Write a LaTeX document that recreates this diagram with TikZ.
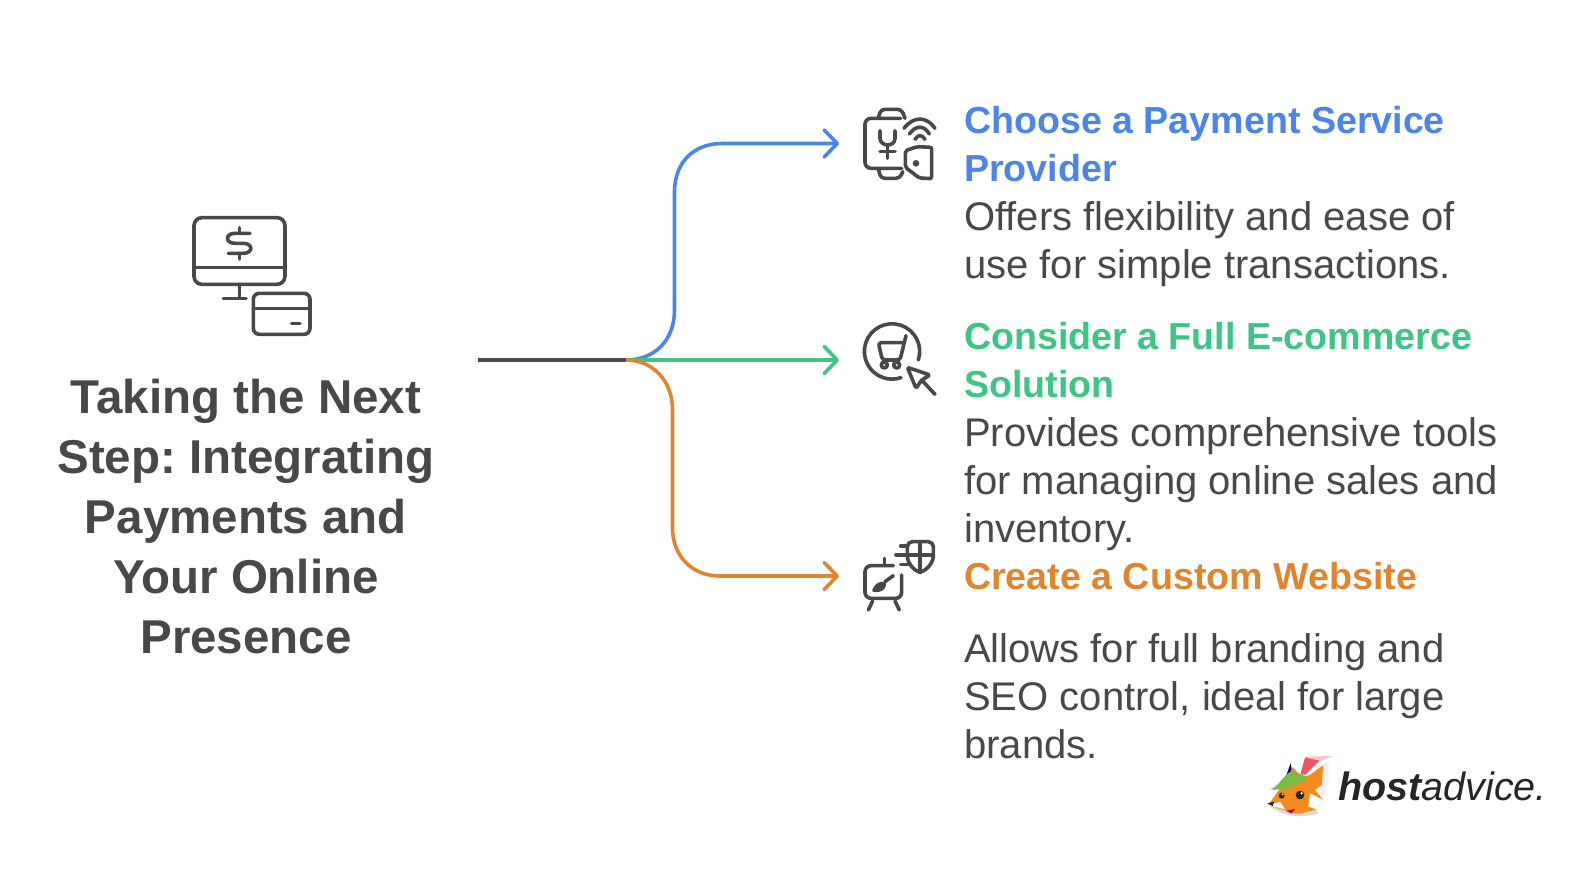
\documentclass[tikz,border=0pt]{standalone}
\usepackage{fontspec}
\setmainfont{Liberation Sans}
\usetikzlibrary{arrows.meta}
\definecolor{inkgray}{HTML}{484848}
\definecolor{payblue}{HTML}{4C84E8}
\definecolor{paygreen}{HTML}{3CC583}
\definecolor{payorange}{HTML}{E0852E}
\definecolor{foxorange}{HTML}{F58A1F}
\definecolor{foxgreen}{HTML}{7DBB42}
\definecolor{foxred}{HTML}{EC5565}
\tikzset{
  headtext/.style={anchor=base west,inner sep=0pt,align=left,font=\fontsize{37.6}{48}\selectfont\bfseries},
  bodytext/.style={anchor=base west,inner sep=0pt,align=left,text=inkgray,font=\fontsize{40}{48}\selectfont},
  titletext/.style={inner sep=0pt,align=center,text=inkgray,font=\fontsize{47.5}{60}\selectfont\bfseries},
  branch/.style={line width=3.6pt,-{Straight Barb[length=13pt,width=27pt,round]}},
  icon/.style={draw=inkgray,line width=3.6pt,line cap=round,line join=round},
}
\begin{document}
\begin{tikzpicture}[x=1pt,y=-1pt]
\frenchspacing
\useasboundingbox (0,0) rectangle (1595,868);
\fill[white] (0,0) rectangle (1595,868);
% connectors
\coordinate (start) at (478,360);
\coordinate (hub) at (626,360);
\coordinate (tipone) at (839,143.5);
\coordinate (tiptwo) at (839,360);
\coordinate (tipthree) at (839,576);
\draw[line width=3.6pt,draw=inkgray] (start) -- (hub);
\draw[branch,draw=payblue] (hub) .. controls (655,360) and (674.5,340) .. (674.5,310) -- (674.5,192) .. controls (674.5,162) and (694,143.5) .. (722,143.5) -- (tipone);
\draw[branch,draw=paygreen] (hub) -- (tiptwo);
\draw[branch,draw=payorange] (hub) .. controls (652,360) and (672.5,380) .. (672.5,410) -- (672.5,528) .. controls (672.5,556) and (692,576) .. (720,576) -- (tipthree);
% title icon
\begin{scope}[shift={(170,195)},x=0.3333pt,y=-0.3333pt]
\draw[icon,rounded corners=8pt] (72,68) rectangle (345,268);
\draw[icon] (72,218) -- (345,218);
\draw[icon] (208,268) -- (208,310) (160,310) -- (228,310);
\draw[icon] (208,98) -- (208,115) (208,175) -- (208,192);
\draw[icon] (240,115) -- (195,115) .. controls (165,115) and (165,145) .. (195,145) -- (220,145) .. controls (250,145) and (250,175) .. (220,175) -- (175,175);
\draw[icon,rounded corners=6pt] (250,295) rectangle (420,418);
\draw[icon] (250,340) -- (420,340) (365,385) -- (390,385);
\end{scope}
% watch icon
\begin{scope}[shift={(830,90)},x=0.3333pt,y=-0.3333pt]
\draw[icon,rounded corners=6pt] (212,85) -- (105,85) -- (105,235) -- (215,235);
\draw[icon,rounded corners=4pt] (145,85) -- (152,58) -- (215,58) -- (225,85);
\draw[icon,rounded corners=4pt] (145,235) -- (152,265) -- (210,265) -- (218,245);
\draw[icon] (150,122) -- (150,145) .. controls (150,160) and (165,165) .. (173,165) .. controls (182,165) and (195,160) .. (195,145) -- (195,122);
\draw[icon] (173,165) -- (173,205) (150,185) -- (195,185);
\draw[icon] (222,115) .. controls (250,78) and (290,78) .. (315,115);
\draw[icon] (238,132) .. controls (258,105) and (282,105) .. (298,132);
\draw[icon] (255,148) .. controls (265,133) and (275,133) .. (285,148);
\draw[icon,rounded corners=2pt] (226,182) -- (262,170) -- (305,172) -- (305,266) -- (268,264) -- (226,232) -- cycle;
\fill[inkgray] (258,220) circle (10);
\end{scope}
% cart icon
\begin{scope}[shift={(830,305)},x=0.3333pt,y=-0.3333pt]
\draw[icon] (265,165) arc[start angle=18,end angle=-289,x radius=83,y radius=83];
\draw[icon,rounded corners=3pt] (228,92) -- (210,165) -- (157,165) -- (145,113) -- (220,113);
\draw[icon] (163,180) circle (9) (200,180) circle (9);
\draw[icon,rounded corners=2pt] (232,187) -- (300,210) -- (275,225) -- (258,250) -- cycle;
\draw[icon] (275,225) -- (315,268);
\end{scope}
% easel icon
\begin{scope}[shift={(830,515)},x=0.3333pt,y=-0.3333pt]
\draw[icon,rounded corners=6pt] (190,152) -- (105,152) -- (105,250) -- (215,250) -- (215,180);
\draw[icon] (163,130) -- (163,152);
\draw[icon] (128,258) -- (115,285) (195,258) -- (208,285);
\draw[icon] (190,182) -- (165,200);
\draw[icon,fill=inkgray] (132,226) .. controls (140,208) and (152,203) .. (163,207) .. controls (163,220) and (150,228) .. (132,226) -- cycle;
\draw[icon,rounded corners=5pt] (232,125) -- (232,80) -- (310,80) -- (310,125);
\draw[icon] (232,125) .. controls (235,150) and (255,168) .. (270,172) .. controls (285,168) and (307,150) .. (310,125);
\draw[icon] (270,80) -- (270,172) (198,120) -- (310,120) (212,93) -- (232,93) (212,148) -- (240,148);
\end{scope}
% texts
\node[titletext] (maintitle) at (246,516.5) {Taking the Next\\Step: Integrating\\Payments and\\Your Online\\Presence};
\node[headtext,text=payblue] (headone) at (964,181) {Choose a Payment Service\\Provider};
\node[bodytext] (bodyone) at (964,278) {Offers flexibility and ease of\\use for simple transactions.};
\node[headtext,text=paygreen] (headtwo) at (964,397) {Consider a Full E-commerce\\Solution};
\node[bodytext] (bodytwo) at (964,542) {Provides comprehensive tools\\for managing online sales and\\inventory.};
\node[headtext,text=payorange] (headthree) at (964,589) {Create a Custom Website};
\node[bodytext] (bodythree) at (964,758) {Allows for full branding and\\SEO control, ideal for large\\brands.};
% logo
\begin{scope}[shift={(1260,750)},x=0.3333pt,y=-0.3333pt]
\fill[black!15] (30,170) .. controls (70,200) and (130,205) .. (175,190) -- (170,180) -- (40,165) -- cycle;
\fill[black!6] (150,70) -- (205,35) -- (205,100) -- (190,140) -- cycle;
\fill[blue!45!black] (78,78) -- (92,40) -- (97,70) -- cycle;
\fill[foxorange] (88,75) -- (97,52) -- (125,80) -- (150,75) -- (190,45) -- (185,105) -- (165,120) -- (190,150) -- (170,178) -- (115,192) -- (70,180) -- (25,165) -- (48,132) -- (60,115) -- cycle;
\fill[white] (25,165) -- (60,155) -- (75,178) -- cycle;
\fill[white] (150,130) -- (190,150) -- (170,178) -- (145,170) -- cycle;
\fill[foxred!35] (135,20) -- (215,18) -- (165,42) -- cycle;
\fill[foxred] (122,70) -- (135,22) -- (178,32) -- (135,75) -- cycle;
\fill[foxgreen] (30,118) .. controls (55,112) and (70,75) .. (92,65) -- (125,72) -- (142,85) -- (100,108) .. controls (80,118) and (50,120) .. (30,118) -- cycle;
\fill[black!85] (65,137) circle (9) (120,135) circle (13);
\fill[white] (68,133) circle (3) (125,130) circle (4);
\fill[black!85] (22,160) -- (42,155) -- (38,168) -- cycle;
\fill[red!75!black] (78,183) -- (105,177) -- (95,190) -- cycle;
\end{scope}
\node[anchor=base west,inner sep=0pt,text=black!85,font=\fontsize{39.5}{48}\selectfont\itshape] (logotext) at (1338,800) {\textbf{host}advice.};
\end{tikzpicture}
\end{document}
